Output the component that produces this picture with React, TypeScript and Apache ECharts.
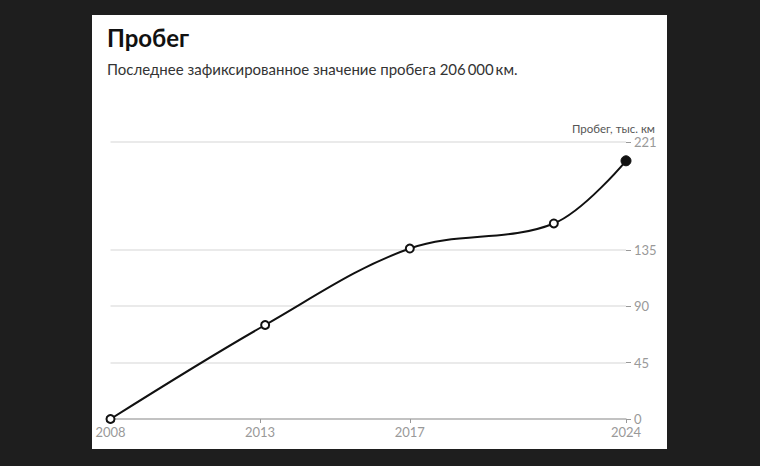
import React, { useEffect, useRef } from "react";
import * as echarts from "echarts";

// Data (x in decimal years, y in thousand km)
const pointYears = [2008.0, 2012.8, 2017.29, 2021.76, 2024.0];
const mileage = [0, 75, 136, 156, 206];
const xTickPositions = [2008.0, 2012.64, 2017.29, 2024.0];
const xTickLabels = ["2008", "2013", "2017", "2024"];
const yTicks = [0, 45, 90, 135, 221];

const FONT = "Lato, 'Noto Sans', sans-serif";

export default function App() {
  const ref = useRef<HTMLDivElement>(null);
  useEffect(() => {
    const chart = echarts.init(ref.current!, null, { renderer: "svg" });
    const lastIdx = mileage.length - 1;
    const data = pointYears.map((x, i) => {
      const item: any = { value: [x, mileage[i]] };
      if (i === lastIdx) {
        item.symbolSize = 10;
        item.itemStyle = { color: "#111", borderColor: "#111", borderWidth: 1 };
      }
      return item;
    });
    chart.setOption({
      animation: false,
      backgroundColor: "#1e1e1e",
      textStyle: { fontFamily: FONT },
      graphic: [
        {
          type: "rect",
          z: -10,
          shape: { x: 92, y: 15, width: 575, height: 434 },
          style: { fill: "#ffffff" },
        },
        {
          type: "text",
          x: 107,
          y: 25,
          style: {
            text: "Пробег",
            fontSize: 24,
            fontWeight: "bold",
            fill: "#111",
            fontFamily: FONT,
          },
        },
        {
          type: "text",
          x: 107,
          y: 61,
          style: {
            text: "Последнее зафиксированное значение пробега 206\u2009000\u2009км.",
            fontSize: 15,
            fill: "#333",
            fontFamily: FONT,
          },
        },
        {
          type: "text",
          x: 655,
          y: 122,
          style: {
            text: "Пробег, тыс. км",
            fontSize: 11.5,
            fill: "#555",
            align: "right",
            fontFamily: FONT,
          },
        },
      ],
      grid: { left: 110.5, right: 134, top: 142, bottom: 47, containLabel: false },
      xAxis: {
        type: "value",
        min: 2008,
        max: 2024,
        axisLine: { show: true, lineStyle: { color: "#b5b5b5", width: 1.5 } },
        axisTick: {
          show: true,
          customValues: xTickPositions,
          length: 4,
          lineStyle: { color: "#999" },
        },
        axisLabel: {
          customValues: xTickPositions,
          formatter: (v: number) => {
            const i = xTickPositions.findIndex((t) => Math.abs(t - v) < 1e-6);
            return i >= 0 ? xTickLabels[i] : "";
          },
          color: "#999",
          fontSize: 13,
          lineHeight: 12,
          margin: 7,
          fontFamily: FONT,
        },
        splitLine: { show: false },
      },
      yAxis: {
        type: "value",
        position: "right",
        min: 0,
        max: 221,
        axisLine: { show: false },
        axisTick: {
          show: true,
          customValues: yTicks,
          length: 5,
          lineStyle: { color: "#999" },
        },
        axisLabel: {
          customValues: yTicks,
          color: "#999",
          fontSize: 13,
          lineHeight: 11,
          margin: 8,
          fontFamily: FONT,
        },
        splitLine: { show: true, lineStyle: { color: "#e3e3e3", width: 1.5 } },
      },
      series: [
        {
          type: "line",
          data,
          smooth: 0.35,
          symbol: "circle",
          symbolSize: 8,
          showAllSymbol: true,
          lineStyle: { color: "#111", width: 2 },
          itemStyle: { color: "#fff", borderColor: "#111", borderWidth: 2 },
          z: 5,
        },
      ],
    });
    return () => chart.dispose();
  }, []);
  return (
    <div
      ref={ref}
      style={{ position: "fixed", left: 0, top: 0, width: 760, height: 466 }}
    />
  );
}
